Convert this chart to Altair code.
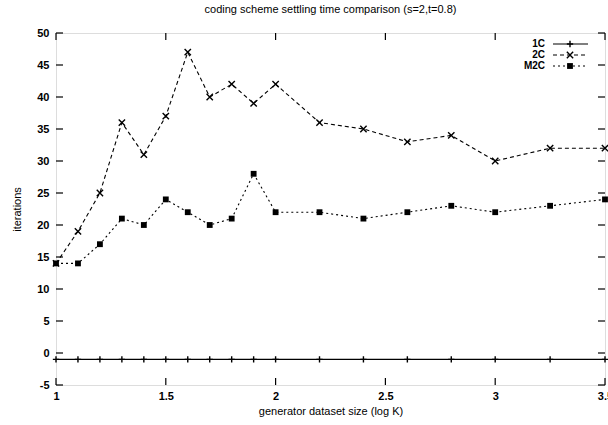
import altair as alt
import pandas as pd

# ---- data ----
x_vals = [1.0, 1.1, 1.2, 1.3, 1.4, 1.5, 1.6, 1.7, 1.8, 1.9, 2.0, 2.2, 2.4, 2.6, 2.8, 3.0, 3.25, 3.5]
c1 = [-1, -1, -1, -1, -1, -1, -1, -1, -1, -1, -1, -1, -1, -1, -1, -1, -1, -1]
c2 = [14, 19, 25, 36, 31, 37, 47, 40, 42, 39, 42, 36, 35, 33, 34, 30, 32, 32]
m2c = [14, 14, 17, 21, 20, 24, 22, 20, 21, 28, 22, 22, 21, 22, 23, 22, 23, 24]

x_ticks = [1.0, 1.5, 2.0, 2.5, 3.0, 3.5]
y_ticks = [-5, 0, 5, 10, 15, 20, 25, 30, 35, 40, 45, 50]

series_names = ["1C", "2C", "M2C"]

W, H = 549, 352
FONT = "Liberation Sans"

df = pd.DataFrame({
    "x": x_vals * 3,
    "y": c1 + c2 + m2c,
    "s": ["1C"] * len(x_vals) + ["2C"] * len(x_vals) + ["M2C"] * len(x_vals),
})
xt = pd.DataFrame({"x": x_ticks})
yt = pd.DataFrame({"y": y_ticks})

xs = alt.Scale(domain=[1, 3.5], nice=False, zero=False)
ys = alt.Scale(domain=[-5, 50], nice=False, zero=False)

x_axis = alt.Axis(
    values=x_ticks, ticks=False, domain=False, grid=False, labelFlush=False,
    labelOverlap=False, labelPadding=5, labelFontSize=11, labelFontWeight="bold",
    labelFont=FONT, labelColor="black", title="generator dataset size (log K)",
    titleFont=FONT, titleFontSize=11, titleFontWeight="normal", titlePadding=4,
    titleColor="black", labelExpr="datum.value")
y_axis = alt.Axis(
    values=y_ticks, ticks=False, domain=False, grid=False, labelFlush=False,
    labelOverlap=False, labelPadding=7, labelFontSize=11, labelFontWeight="bold",
    labelFont=FONT, labelColor="black", title="iterations", titleFont=FONT,
    titleFontSize=11, titleFontWeight="normal", titlePadding=14, titleColor="black",
    labelExpr="datum.value")
X = alt.X("x:Q", scale=xs, axis=x_axis)
Y = alt.Y("y:Q", scale=ys, axis=y_axis)

dash = {"1C": [1, 0], "2C": [4, 3], "M2C": [2, 3]}
shape = {
    "1C": "M-1,0L1,0M0,-1L0,1",
    "2C": "M-1,-1L1,1M-1,1L1,-1",
    "M2C": "M-1,-1L1,-1L1,1L-1,1Z",
}
msize = {"1C": 40, "2C": 40, "M2C": 34}

layers = []
for name in series_names:
    d = df[df.s == name]
    layers.append(alt.Chart(d).mark_line(color="black", strokeWidth=1.1,
                                         strokeDash=dash[name]).encode(x=X, y=Y))
    if name == "M2C":
        layers.append(alt.Chart(d).mark_point(shape=shape[name], filled=True, color="black",
                                              size=msize[name], opacity=1).encode(x=X, y=Y))
    else:
        layers.append(alt.Chart(d).mark_point(shape=shape[name], filled=False, color="black",
                                              strokeWidth=1.4, size=msize[name], opacity=1).encode(x=X, y=Y))

# inward ticks (gnuplot style), mirrored
tick_len = 7
layers.append(alt.Chart(xt).mark_rule(color="black", strokeWidth=1.2).encode(
    x=X, y=alt.value(H), y2=alt.value(H - tick_len)))
layers.append(alt.Chart(xt).mark_rule(color="black", strokeWidth=1.2).encode(
    x=X, y=alt.value(0), y2=alt.value(tick_len)))
layers.append(alt.Chart(yt).mark_rule(color="black", strokeWidth=1.2).encode(
    y=Y, x=alt.value(0), x2=alt.value(tick_len)))
layers.append(alt.Chart(yt).mark_rule(color="black", strokeWidth=1.2).encode(
    y=Y, x=alt.value(W), x2=alt.value(W - tick_len)))

# legend (top right)
leg_rows = [11, 22, 33]
for name, ry in zip(series_names, leg_rows):
    ld = pd.DataFrame({"s": [name]})
    layers.append(alt.Chart(ld).mark_text(align="right", baseline="middle", font=FONT,
                                          fontSize=10, fontWeight="bold", color="black").encode(
        text="s:N", x=alt.value(489), y=alt.value(ry)))
    layers.append(alt.Chart(ld).mark_rule(color="black", strokeWidth=1.1,
                                          strokeDash=dash[name]).encode(
        x=alt.value(497), x2=alt.value(532), y=alt.value(ry)))
    if name == "M2C":
        layers.append(alt.Chart(ld).mark_point(shape=shape[name], filled=True, color="black",
                                               size=msize[name], opacity=1).encode(
            x=alt.value(514), y=alt.value(ry)))
    else:
        layers.append(alt.Chart(ld).mark_point(shape=shape[name], filled=False, color="black",
                                               strokeWidth=1.4, size=msize[name], opacity=1).encode(
            x=alt.value(514), y=alt.value(ry)))

chart = alt.layer(*layers).properties(
    width=W, height=H,
    title=alt.TitleParams("coding scheme settling time comparison (s=2,t=0.8)",
                          font=FONT, fontSize=11, fontWeight="normal", color="black",
                          anchor="middle", offset=12),
    padding={"left": 56, "top": 33, "right": 3, "bottom": 40},
    autosize=alt.AutoSizeParams(type="none"),
).configure_view(stroke="black", strokeWidth=1.6).configure(background="white")

chart.save("out.html", embed_options={"renderer": "svg", "actions": False})
